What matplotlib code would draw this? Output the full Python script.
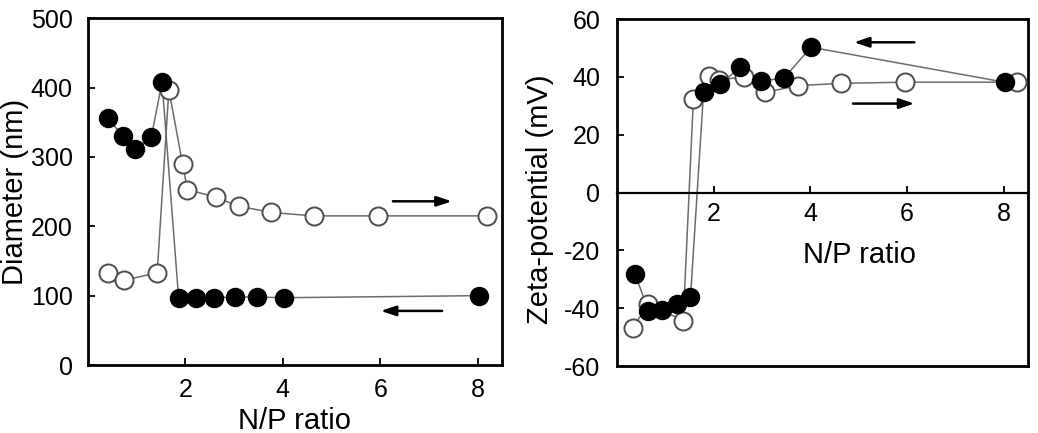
import matplotlib
matplotlib.use("Agg")
import matplotlib.pyplot as plt

plt.rcParams['font.family'] = ['Liberation Sans', 'DejaVu Sans']
plt.rcParams['axes.unicode_minus'] = False

# Diameter panel
dia_open_x = [0.40, 0.73, 1.42, 1.66, 1.94, 2.04, 2.62, 3.09, 3.76, 4.63, 5.96, 8.20]
dia_open_y = [132, 122, 133, 397, 290, 253, 242, 229, 220, 215, 215, 215]
dia_fill_x = [0.40, 0.72, 0.97, 1.30, 1.52, 1.86, 2.22, 2.58, 3.02, 3.47, 4.02, 8.02]
dia_fill_y = [356, 330, 311, 329, 408, 97, 97, 97, 98, 98, 97, 100]

# Zeta-potential panel
zeta_open_x = [0.33, 0.65, 1.37, 1.58, 1.90, 2.10, 2.62, 3.07, 3.74, 4.63, 5.95, 8.27]
zeta_open_y = [-46.7, -38.5, -44.3, 32.5, 40.5, 39.0, 40.0, 34.7, 37.0, 37.8, 38.2, 38.2]
zeta_fill_x = [0.37, 0.65, 0.93, 1.24, 1.52, 1.79, 2.14, 2.55, 2.97, 3.45, 4.01, 8.02]
zeta_fill_y = [-28.0, -40.8, -40.5, -38.5, -36.2, 34.7, 37.7, 43.3, 38.7, 39.5, 50.3, 38.2]

x_ticks = [2, 4, 6, 8]
dia_ticks = [0, 100, 200, 300, 400, 500]
zeta_ticks = [-60, -40, -20, 0, 20, 40, 60]

# arrows: (x_start, x_end, y)
dia_arrows = [(6.26, 7.47, 236), (7.27, 6.01, 78)]
zeta_arrows = [(6.15, 4.90, 52), (4.88, 6.15, 30.8)]

TICK_FS = 18
LABEL_FS = 21
LINE_C = '0.42'

fig = plt.figure(figsize=(10.38, 4.33), dpi=100)
ax1 = fig.add_axes([0.0848, 0.157, 0.3988, 0.801])
ax2 = fig.add_axes([0.5944, 0.1547, 0.396, 0.801])


def draw_series(ax, ox, oy, fx, fy):
    ax.plot(ox, oy, '-', color=LINE_C, lw=1.1, zorder=2)
    ax.plot(fx, fy, '-', color=LINE_C, lw=1.1, zorder=2)
    ax.plot(ox, oy, 'o', ms=13, mfc='white', mec='0.3', mew=1.4, ls='none', zorder=3)
    ax.plot(fx, fy, 'o', ms=13, mfc='black', mec='black', mew=1.0, ls='none', zorder=4)


def draw_arrows(ax, arrows):
    for xs, xe, y in arrows:
        ax.annotate('', xy=(xe, y), xytext=(xs, y),
                    arrowprops=dict(arrowstyle='-|>,head_length=0.9,head_width=0.3',
                                    color='black', lw=1.8, shrinkA=0, shrinkB=0))


# Left panel
draw_series(ax1, dia_open_x, dia_open_y, dia_fill_x, dia_fill_y)
draw_arrows(ax1, dia_arrows)
ax1.set_xlim(0, 8.5)
ax1.set_ylim(0, 500)
ax1.set_xticks(x_ticks)
ax1.set_yticks(dia_ticks)
ax1.tick_params(direction='in', length=5, width=1.3, labelsize=TICK_FS, colors='black')
ax1.tick_params(axis='y', pad=11)
ax1.tick_params(axis='x', pad=9)
for s in ax1.spines.values():
    s.set_linewidth(2.0)
ax1.set_xlabel('N/P ratio', fontsize=LABEL_FS)
ax1.xaxis.set_label_coords(0.5, -0.12)
ax1.set_ylabel('Diameter (nm)', fontsize=LABEL_FS)
ax1.yaxis.set_label_coords(-0.142, 0.5)

# Right panel
draw_series(ax2, zeta_open_x, zeta_open_y, zeta_fill_x, zeta_fill_y)
draw_arrows(ax2, zeta_arrows)
ax2.set_xlim(0, 8.5)
ax2.set_ylim(-60, 60)
ax2.set_xticks(x_ticks)
ax2.set_yticks(zeta_ticks)
ax2.tick_params(direction='in', length=5, width=1.3, labelsize=TICK_FS, colors='black')
ax2.tick_params(axis='y', pad=12)
ax2.tick_params(axis='x', pad=7)
for s in ax2.spines.values():
    s.set_linewidth(2.0)
ax2.spines['bottom'].set_position(('data', 0))
ax2.spines['bottom'].set_linewidth(1.6)
ax2.axhline(-60, color='black', lw=2.0, clip_on=False, zorder=5)
ax2.set_xlabel('N/P ratio', fontsize=LABEL_FS)
ax2.xaxis.set_label_coords(0.591, 0.36)
ax2.set_ylabel('Zeta-potential (mV)', fontsize=LABEL_FS)
ax2.yaxis.set_label_coords(-0.153, 0.48)

fig.savefig('out.png', dpi=100)
